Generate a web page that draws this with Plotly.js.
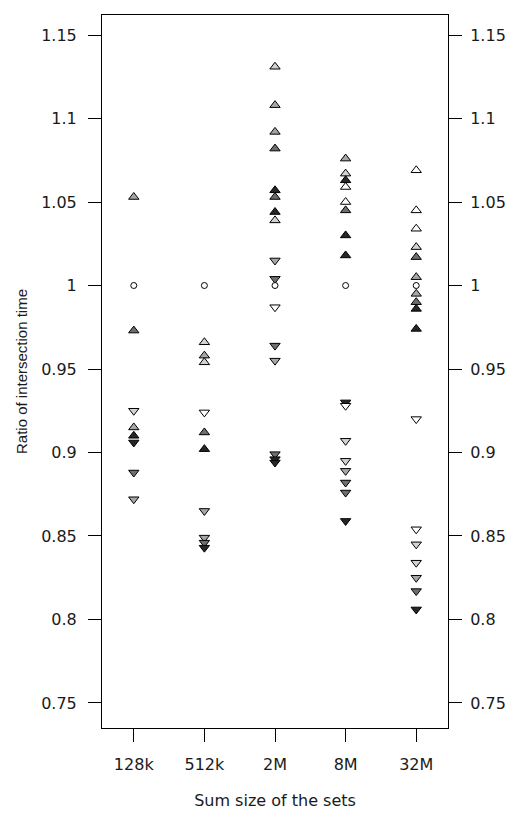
<!DOCTYPE html>
<html>
<head>
<meta charset="utf-8">
<script src="https://cdn.plot.ly/plotly-3.0.1.min.js"></script>
<style>html,body{margin:0;padding:0;background:#fff;}#chart{width:521px;height:826px;}</style>
</head>
<body>
<div id="chart"></div>
<script>
// ---- data ----
var categories = ["128k", "512k", "2M", "8M", "32M"];

// upward triangles
var upX = ["128k","128k","128k","128k",
           "512k","512k","512k","512k","512k",
           "2M","2M","2M","2M","2M","2M","2M","2M",
           "8M","8M","8M","8M","8M","8M","8M","8M",
           "32M","32M","32M","32M","32M","32M","32M","32M","32M","32M"];
var upY = [1.053, 0.973, 0.915, 0.910,
           0.966, 0.958, 0.954, 0.912, 0.902,
           1.131, 1.108, 1.092, 1.082, 1.057, 1.053, 1.044, 1.039,
           1.076, 1.067, 1.063, 1.059, 1.050, 1.045, 1.030, 1.018,
           1.069, 1.045, 1.034, 1.023, 1.017, 1.005, 0.995, 0.990, 0.986, 0.974];
var upShade = [2, 3, 2, 4,
               1, 2, 1, 3, 4,
               1, 2, 2, 3, 4, 3, 4, 1,
               2, 1, 4, 0, 0, 3, 4, 4,
               0, 0, 0, 1, 3, 2, 2, 3, 4, 4];

// downward triangles
var downX = ["128k","128k","128k","128k",
             "512k","512k","512k","512k","512k",
             "2M","2M","2M","2M","2M","2M","2M","2M",
             "8M","8M","8M","8M","8M","8M","8M","8M",
             "32M","32M","32M","32M","32M","32M","32M"];
var downY = [0.925, 0.906, 0.888, 0.872,
             0.924, 0.865, 0.849, 0.846, 0.843,
             1.015, 1.004, 0.987, 0.964, 0.955, 0.899, 0.896, 0.894,
             0.930, 0.928, 0.907, 0.895, 0.889, 0.882, 0.876, 0.859,
             0.920, 0.854, 0.845, 0.834, 0.825, 0.817, 0.806];
var downShade = [1, 4, 3, 2,
                 0, 2, 2, 3, 4,
                 2, 3, 0, 3, 2, 3, 4, 4,
                 4, 0, 1, 1, 2, 3, 3, 4,
                 0, 0, 1, 1, 2, 3, 4];

// reference points (ratio = 1)
var baseX = ["128k", "512k", "2M", "8M", "32M"];
var baseY = [1, 1, 1, 1, 1];

var yTicks = [0.75, 0.8, 0.85, 0.9, 0.95, 1, 1.05, 1.1, 1.15];
var yTickText = ["0.75", "0.8", "0.85", "0.9", "0.95", "1", "1.05", "1.1", "1.15"];

// ---- styles ----
var shadeColors = ["#ffffff", "#d2d2d2", "#a6a6a6", "#6e6e6e", "#262626"];
function toColors(arr) { return arr.map(function (s) { return shadeColors[s]; }); }

var traces = [
  {
    x: upX, y: upY, type: "scatter", mode: "markers", hoverinfo: "skip",
    marker: { symbol: "triangle-up", size: 9, color: toColors(upShade), line: { color: "#000", width: 1 } }
  },
  {
    x: downX, y: downY, type: "scatter", mode: "markers", hoverinfo: "skip",
    marker: { symbol: "triangle-down", size: 9, color: toColors(downShade), line: { color: "#000", width: 1 } }
  },
  {
    x: baseX, y: baseY, type: "scatter", mode: "markers", hoverinfo: "skip",
    marker: { symbol: "circle", size: 6, color: "#ffffff", line: { color: "#000", width: 1 } }
  },
  {
    x: baseX, y: baseY, type: "scatter", mode: "markers", yaxis: "y2", hoverinfo: "skip",
    marker: { opacity: 0 }
  }
];

var fam = "DejaVu Sans, Verdana, sans-serif";
var tickFont = { family: fam, size: 16, color: "#1a1a1a" };
var yRange = [0.735, 1.162];

var layout = {
  width: 521, height: 826,
  margin: { l: 102, r: 73, t: 15, b: 98 },
  paper_bgcolor: "#fff", plot_bgcolor: "#fff",
  showlegend: false,
  xaxis: {
    type: "category", categoryorder: "array", categoryarray: categories,
    range: [-0.45, 4.45],
    showgrid: false, zeroline: false,
    showline: true, linecolor: "#000", linewidth: 1, mirror: true,
    ticks: "outside", ticklen: 13, tickcolor: "#000", tickwidth: 1,
    ticklabelstandoff: 9,
    tickfont: tickFont,
    title: { text: "Sum size of the sets", font: { family: fam, size: 16, color: "#1a1a1a" }, standoff: 21 }
  },
  yaxis: {
    range: yRange,
    tickvals: yTicks, ticktext: yTickText,
    showgrid: false, zeroline: false,
    showline: true, linecolor: "#000", linewidth: 1, mirror: true,
    ticks: "outside", ticklen: 13, tickcolor: "#000", tickwidth: 1,
    ticklabelstandoff: 8,
    tickfont: tickFont,
    title: { text: "Ratio of intersection time", font: { family: "Liberation Sans, Arial, sans-serif", size: 15, color: "#1a1a1a" }, standoff: 9 }
  },
  yaxis2: {
    overlaying: "y", side: "right", matches: "y",
    range: yRange,
    tickvals: yTicks, ticktext: yTickText,
    showgrid: false, zeroline: false, showline: false,
    ticks: "outside", ticklen: 13, tickcolor: "#000", tickwidth: 1,
    ticklabelstandoff: 5,
    tickfont: tickFont
  }
};

Plotly.newPlot("chart", traces, layout, { staticPlot: true, displayModeBar: false });
</script>
</body>
</html>
